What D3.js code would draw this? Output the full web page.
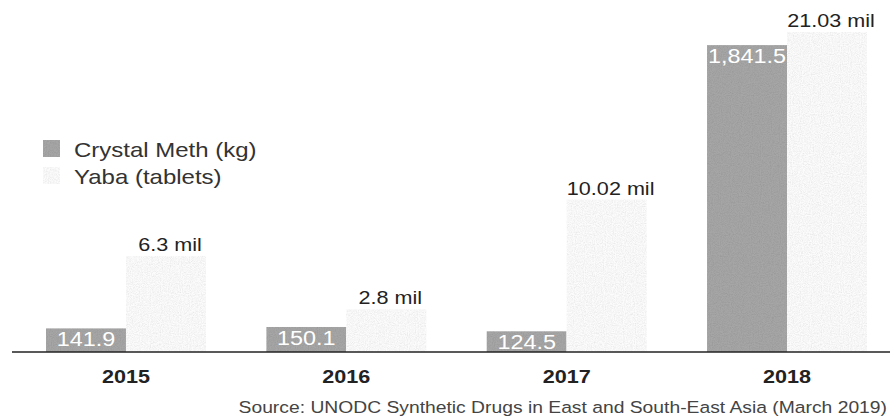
<!DOCTYPE html>
<html>
<head>
<meta charset="utf-8">
<script src="https://cdn.jsdelivr.net/npm/d3@7"></script>
<style>
  html, body { margin: 0; padding: 0; background: #fff; }
  text { font-family: "Liberation Sans", Arial, sans-serif; }
</style>
</head>
<body>
<div id="chart"></div>
<script>
//////////////////////////// data /////////////////////////////////////////

const years = ["2015", "2016", "2017", "2018"];
const methKg = [141.9, 150.1, 124.5, 1841.5];
const yabaMil = [6.3, 2.8, 10.02, 21.03];
const seriesNames = ["Crystal Meth (kg)", "Yaba (tablets)"];
const sourceNote = "Source: UNODC Synthetic Drugs in East and South-East Asia (March 2019)";

//////////////////////////// sizes ////////////////////////////////////////

const width = 890;
const height = 418;
const baseY = 352;
const topY = 32;
const stretch = 1.2; // the scanned type is wider than Liberation Sans

const svg = d3.select("#chart").append("svg")
	.attr("width", width)
	.attr("height", height);

// grain, like the printed bars
const defs = svg.append("defs");
const grain = defs.append("filter").attr("id", "grain")
	.attr("x", 0).attr("y", 0).attr("width", 1).attr("height", 1);
grain.append("feTurbulence")
	.attr("type", "fractalNoise").attr("baseFrequency", 0.9)
	.attr("numOctaves", 2).attr("seed", 3).attr("result", "n");
grain.append("feColorMatrix")
	.attr("in", "n").attr("type", "saturate").attr("values", 0).attr("result", "g");
const ct = grain.append("feComponentTransfer").attr("in", "g").attr("result", "gm");
["feFuncR", "feFuncG", "feFuncB"].forEach((f) =>
	ct.append(f).attr("type", "linear").attr("slope", 0.4).attr("intercept", 0.75));
ct.append("feFuncA").attr("type", "linear").attr("slope", 0).attr("intercept", 1);
grain.append("feComposite")
	.attr("in", "gm").attr("in2", "SourceGraphic").attr("operator", "in").attr("result", "gc");
grain.append("feBlend").attr("in", "SourceGraphic").attr("in2", "gc").attr("mode", "multiply");

//////////////////////////// scales ///////////////////////////////////////

const x = d3.scaleBand()
	.domain(years)
	.range([46, 867])
	.paddingInner(0.274)
	.paddingOuter(0);

const xSeries = d3.scaleBand()
	.domain(["meth", "yaba"])
	.range([0, x.bandwidth()]);

// each series on its own scale
const yMeth = d3.scaleLinear().domain([0, 1920]).range([baseY, topY]);
const yYaba = d3.scaleLinear().domain([0, 21.03]).range([baseY, topY]);

const colors = { meth: "#a6a6a6", yaba: "#fcfcfc" };

const data = years.map((yr, i) => ({ year: yr, meth: methKg[i], yaba: yabaMil[i] }));

//////////////////////////// bars /////////////////////////////////////////

const groups = svg.selectAll(".year")
	.data(data)
	.enter()
	.append("g")
	.attr("class", "year")
	.attr("transform", (d) => `translate(${x(d.year)},0)`);

groups.append("rect")
	.attr("x", xSeries("meth"))
	.attr("y", (d) => yMeth(d.meth))
	.attr("width", xSeries.bandwidth())
	.attr("height", (d) => baseY - yMeth(d.meth))
	.attr("fill", colors.meth)
	.attr("filter", "url(#grain)");

groups.append("rect")
	.attr("x", xSeries("yaba"))
	.attr("y", (d) => yYaba(d.yaba))
	.attr("width", xSeries.bandwidth())
	.attr("height", (d) => baseY - yYaba(d.yaba))
	.attr("fill", colors.yaba)
	.attr("filter", "url(#grain)");

// meth labels sit inside the top of the bar
const fmtMeth = d3.format(",.1f");
groups.append("text")
	.attr("transform", (d) =>
		`translate(${xSeries("meth") + xSeries.bandwidth() / 2},${yMeth(d.meth) + 18}) scale(${stretch},1)`)
	.attr("text-anchor", "middle")
	.style("font-size", "19.5px")
	.style("fill", "#fff")
	.text((d) => fmtMeth(d.meth));

// yaba labels above the bar
groups.append("text")
	.attr("transform", (d) =>
		`translate(${xSeries("yaba") + xSeries.bandwidth() / 2 + 4},${yYaba(d.yaba) - 5}) scale(${stretch},1)`)
	.attr("text-anchor", "middle")
	.style("font-size", "18px")
	.style("fill", "#222")
	.text((d) => d.yaba + " mil");

//////////////////////////// axis /////////////////////////////////////////

svg.append("line")
	.attr("x1", 12).attr("x2", width)
	.attr("y1", baseY).attr("y2", baseY)
	.attr("stroke", "#222")
	.attr("stroke-width", 1.6);

const xAxis = svg.append("g")
	.attr("transform", `translate(0,${baseY})`)
	.call(d3.axisBottom(x).tickSize(0).tickPadding(0));

xAxis.select(".domain").remove();
xAxis.selectAll("text")
	.attr("y", 0).attr("dy", 0)
	.attr("transform", `translate(0,31) scale(${stretch},1)`)
	.style("font-family", "'Liberation Sans', Arial, sans-serif")
	.style("font-size", "18px")
	.style("font-weight", "bold")
	.style("fill", "#222");

//////////////////////////// legend ///////////////////////////////////////

const legend = svg.append("g").attr("transform", "translate(43,140)");
const legendItems = legend.selectAll(".item")
	.data(["meth", "yaba"])
	.enter()
	.append("g")
	.attr("transform", (d, i) => `translate(0,${i * 27})`);

legendItems.append("rect")
	.attr("width", 17).attr("height", 17)
	.attr("fill", (d) => colors[d])
	.attr("filter", "url(#grain)");

legendItems.append("text")
	.attr("transform", `translate(31,17) scale(${stretch},1)`)
	.style("font-size", "20px")
	.style("fill", "#333")
	.text((d, i) => seriesNames[i]);

//////////////////////////// source ///////////////////////////////////////

svg.append("text")
	.attr("transform", `translate(887,413) scale(1.17,1)`)
	.attr("text-anchor", "end")
	.style("font-size", "16.5px")
	.style("fill", "#444")
	.text(sourceNote);
</script>
</body>
</html>
